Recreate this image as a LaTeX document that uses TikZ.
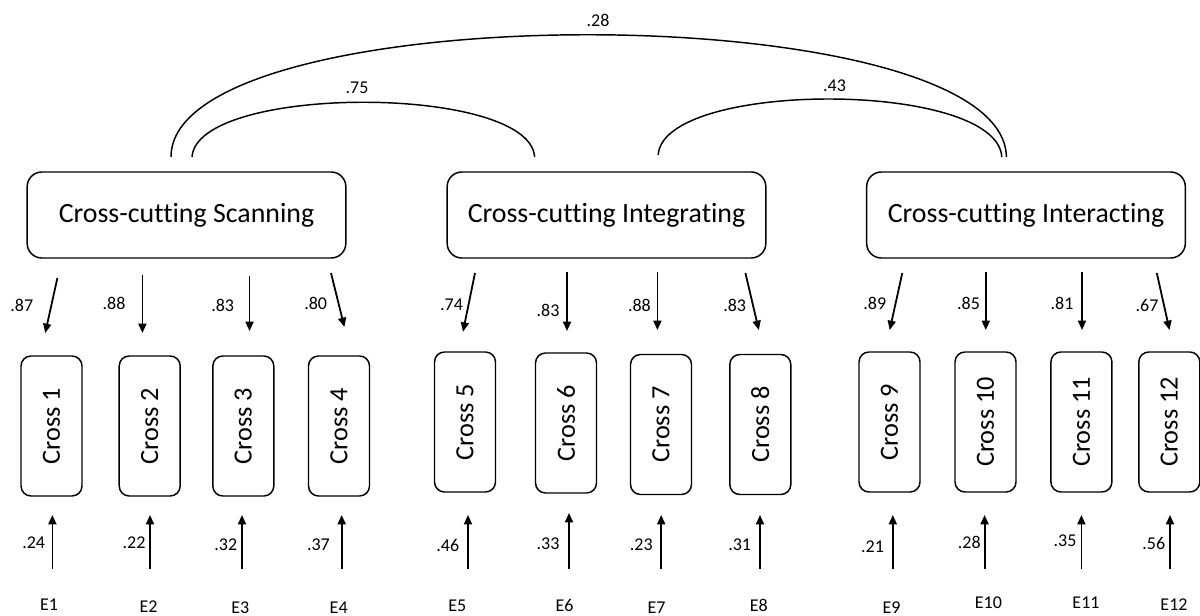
\documentclass[tikz,border=0pt]{standalone}
\usepackage{fontspec}
\setmainfont{Carlito}[Ligatures=NoCommon]
\usetikzlibrary{arrows.meta}

\begin{document}
\begin{tikzpicture}[x=0.75pt,y=-0.75pt,
  factor/.style={draw, line width=1.1pt, rounded corners=11pt,
    minimum width=239pt, minimum height=64.5pt, inner sep=0pt,
    font=\fontsize{20.9}{24}\selectfont},
  item/.style={draw, line width=1.1pt, rounded corners=7.5pt, rotate=90,
    minimum width=105pt, minimum height=45.75pt, inner sep=0pt,
    font=\fontsize{19.7}{23}\selectfont},
  load/.style={line width=1.35pt, -{Triangle[length=7pt,width=6pt]}},
  cov/.style={line width=1.1pt},
  coef/.style={font=\fontsize{13.5}{15}\selectfont, inner sep=0pt},
  errlab/.style={font=\fontsize{13.5}{15}\selectfont, inner sep=0pt}]

\useasboundingbox (0,0) rectangle (1200,616);

% latent factors
\node[factor] (F1) at (186.5,215) {Cross-cutting Scanning};
\node[factor] (F2) at (606.5,215) {Cross-cutting Integrating};
\node[factor] (F3) at (1026,215) {Cross-cutting Interacting};

% observed indicators
\foreach \i/\x/\y in {1/51.5/426, 2/149.7/426, 3/243.3/426, 4/339/426,
                      5/465/422, 6/566/423, 7/661/424.5, 8/760.3/424.5,
                      9/889.5/422, 10/985.5/422, 11/1081.4/422, 12/1169.3/422}
  \node[item] (C\i) at (\x,\y) {Cross \i\hspace{6pt}};

% factor loadings
\foreach \i/\xs/\ys/\xe/\ye/\lx/\ly/\v in {
    1/57.4/278/45.2/333/21.8/305/.87,
    2/142.4/275/142.4/333/114/303/.88,
    3/249.5/276/249.5/331/222.7/305/.83,
    4/331/273/344.4/327/315.7/303/.80,
    5/475/273/463/331.7/451.6/305/.74,
    6/567/272/567/331/548/310/.83,
    7/657.4/272/657.4/330/639.4/305/.88,
    8/745.4/273/758.8/330/734.7/305/.83,
    9/902.3/273/889.7/330/874.8/303/.89,
    10/985.8/272/985.8/330/968.5/303/.85,
    11/1082/272/1082/330/1062/303/.81,
    12/1156.8/273/1169.5/330/1147/305/.67} {
  \coordinate (L\i s) at (\xs,\ys);
  \coordinate (L\i e) at (\xe,\ye);
  \draw[load] (L\i s) -- (L\i e);
  \node[coef] (l\i) at (\lx,\ly) {\v};
}

% error terms
\foreach \i/\x/\yt/\lx/\ly/\v/\ex/\ey in {
    1/52.4/515/33.7/543/.24/49/605,
    2/150/515/134/543/.22/148.5/607,
    3/242/515/225.8/545/.32/240.3/608,
    4/341.7/515/318.4/545/.37/338.7/608,
    5/468/515/447.8/545/.46/457.3/606,
    6/569/513/548/544/.33/564.5/605,
    7/661.2/515/641.3/545/.23/656.6/608,
    8/760/515/739.7/545/.31/758.8/605,
    9/892.8/515/872.5/547/.21/891.6/608,
    10/984.6/515/969.3/542.7/.28/988.4/603,
    11/1081.4/515/1065/541/.35/1086/603,
    12/1170/515/1153.8/543/.56/1174/605} {
  \node[errlab] (E\i) at (\ex,\ey) {E\i};
  \coordinate (R\i s) at (\x,569);
  \coordinate (R\i e) at (\x,\yt);
  \draw[load] (R\i s) -- (R\i e);
  \node[coef] (r\i) at (\lx,\ly) {\v};
}

% factor covariances
\coordinate (A12s) at (192,157);
\coordinate (A12e) at (534.6,157);
\coordinate (A13s) at (171,157);
\coordinate (A13e) at (1006.4,157);
\coordinate (A23s) at (658.2,155);
\coordinate (A23e) at (1001.8,157);
\draw[cov] (A12s) .. controls (197,84) and (530,84) .. (A12e);
\draw[cov] (A13s) .. controls (171,-6) and (1004,-6) .. (A13e);
\draw[cov] (A23s) .. controls (663,80) and (997,80) .. (A23e);
\node[coef] (c12) at (357,88) {.75};
\node[coef] (c13) at (598,20) {.28};
\node[coef] (c23) at (834.6,86) {.43};

\end{tikzpicture}
\end{document}
